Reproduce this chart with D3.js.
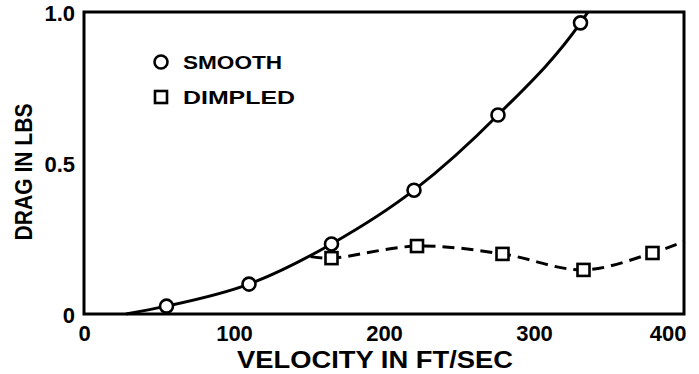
<!DOCTYPE html>
<html>
<head>
<meta charset="utf-8">
<script src="https://cdn.jsdelivr.net/npm/d3@7"></script>
<style>
  html, body { margin: 0; padding: 0; background: #fff; }
  svg { display: block; }
  text { font-family: "Liberation Sans", Arial, Helvetica, sans-serif; font-weight: bold; fill: #000; }
</style>
</head>
<body>
<svg id="chart" width="699" height="374"></svg>
<script>
// Drag measurements (lbs) against velocity (ft/sec)
const smoothVelocity = [55, 110, 165, 220, 276, 331];
const smoothDrag     = [0.026, 0.099, 0.232, 0.41, 0.659, 0.964];
const dimpledVelocity = [165, 222, 279, 333, 379];
const dimpledDrag     = [0.185, 0.225, 0.199, 0.146, 0.202];

// Faired curves run a little past the measured points
const smoothCurveVelocity = [28, 55, 110, 165, 220, 276, 331, 336];
const smoothCurveDrag     = [0, 0.026, 0.099, 0.232, 0.41, 0.659, 0.964, 1.0];
const dimpledCurveVelocity = [151, 165, 222, 279, 333, 379, 400];
const dimpledCurveDrag     = [0.19, 0.185, 0.225, 0.199, 0.146, 0.202, 0.24];

const xTicks = [0, 100, 200, 300, 400];
const yTicks = [0, 0.5, 1.0];
const yTickLabels = ["0", "0.5", "1.0"];
const legendLabels = ["SMOOTH", "DIMPLED"];

const svg = d3.select("#chart");
const plotLeft = 84, plotRight = 684, plotTop = 12, plotBottom = 314;

const x = d3.scaleLinear().domain([0, 400]).range([plotLeft, plotRight]);
const y = d3.scaleLinear().domain([0, 1.0]).range([plotBottom, plotTop]);

// Axes: labels only, the frame is drawn separately
const xAxis = svg.append("g")
  .attr("transform", `translate(0,${plotBottom})`)
  .call(d3.axisBottom(x).tickValues(xTicks).tickFormat(d3.format("d")).tickSize(0).tickPadding(8));
xAxis.select(".domain").remove();
xAxis.selectAll("text").attr("font-size", 22).attr("font-family", null).attr("dy", "0.85em");
xAxis.selectAll(".tick").filter(d => d === 400).select("text")
  .attr("text-anchor", "end").attr("x", 2);

const yAxis = svg.append("g")
  .attr("transform", `translate(${plotLeft},0)`)
  .call(d3.axisLeft(y).tickValues(yTicks).tickFormat((d, i) => yTickLabels[i]).tickSize(0).tickPadding(9));
yAxis.select(".domain").remove();
yAxis.selectAll("text").attr("font-size", 22).attr("font-family", null).attr("dy", "0.4em");

// Plot frame
svg.append("rect")
  .attr("x", plotLeft).attr("y", plotTop)
  .attr("width", plotRight - plotLeft).attr("height", plotBottom - plotTop)
  .attr("fill", "none").attr("stroke", "#000").attr("stroke-width", 3);

// Axis titles
svg.append("text")
  .attr("x", (plotLeft + plotRight) / 2 - 9).attr("y", 368)
  .attr("text-anchor", "middle").attr("font-size", 23)
  .attr("textLength", 276).attr("lengthAdjust", "spacingAndGlyphs")
  .text("VELOCITY IN FT/SEC");
svg.append("text")
  .attr("transform", `translate(32,172) rotate(-90)`)
  .attr("text-anchor", "middle").attr("font-size", 24)
  .attr("textLength", 137).attr("lengthAdjust", "spacingAndGlyphs")
  .text("DRAG IN LBS");

const plot = svg.append("g");
plot.append("clipPath").attr("id", "clip")
  .append("rect").attr("x", plotLeft).attr("y", plotTop - 2)
  .attr("width", plotRight - plotLeft).attr("height", plotBottom - plotTop + 2);

const smoothLine = d3.line()
  .x((d, i) => x(smoothCurveVelocity[i]))
  .y(d => y(d))
  .curve(d3.curveMonotoneX);
const dimpledLine = d3.line()
  .x((d, i) => x(dimpledCurveVelocity[i]))
  .y(d => y(d))
  .curve(d3.curveCatmullRom.alpha(0.5));

plot.append("path")
  .attr("d", dimpledLine(dimpledCurveDrag))
  .attr("clip-path", "url(#clip)")
  .attr("fill", "none").attr("stroke", "#000").attr("stroke-width", 3)
  .attr("stroke-dasharray", "12,7");

plot.append("path")
  .attr("d", smoothLine(smoothCurveDrag))
  .attr("fill", "none").attr("stroke", "#000").attr("stroke-width", 3);

// Markers
const sq = 12;
plot.selectAll("rect.dimpled")
  .data(dimpledDrag)
  .join("rect").attr("class", "dimpled")
  .attr("x", (d, i) => x(dimpledVelocity[i]) - sq / 2)
  .attr("y", d => y(d) - sq / 2)
  .attr("width", sq).attr("height", sq)
  .attr("fill", "#fff").attr("stroke", "#000").attr("stroke-width", 2.6);

plot.selectAll("circle.smooth")
  .data(smoothDrag)
  .join("circle").attr("class", "smooth")
  .attr("cx", (d, i) => x(smoothVelocity[i]))
  .attr("cy", d => y(d))
  .attr("r", 6.5)
  .attr("fill", "#fff").attr("stroke", "#000").attr("stroke-width", 2.6);

// Legend
const legend = svg.append("g");
const legendItems = legend.selectAll("g")
  .data(legendLabels)
  .join("g")
  .attr("transform", (d, i) => `translate(161,${62 + i * 35})`);
legendItems.filter((d, i) => i === 0).append("circle")
  .attr("r", 6.5).attr("fill", "#fff").attr("stroke", "#000").attr("stroke-width", 2.6);
legendItems.filter((d, i) => i === 1).append("rect")
  .attr("x", -6).attr("y", -6).attr("width", 12).attr("height", 12)
  .attr("fill", "#fff").attr("stroke", "#000").attr("stroke-width", 2.6);
legendItems.append("text")
  .attr("x", 22).attr("y", 7)
  .attr("font-size", 19)
  .attr("textLength", (d, i) => i === 0 ? 99 : 112).attr("lengthAdjust", "spacingAndGlyphs")
  .text(d => d);
</script>
</body>
</html>
